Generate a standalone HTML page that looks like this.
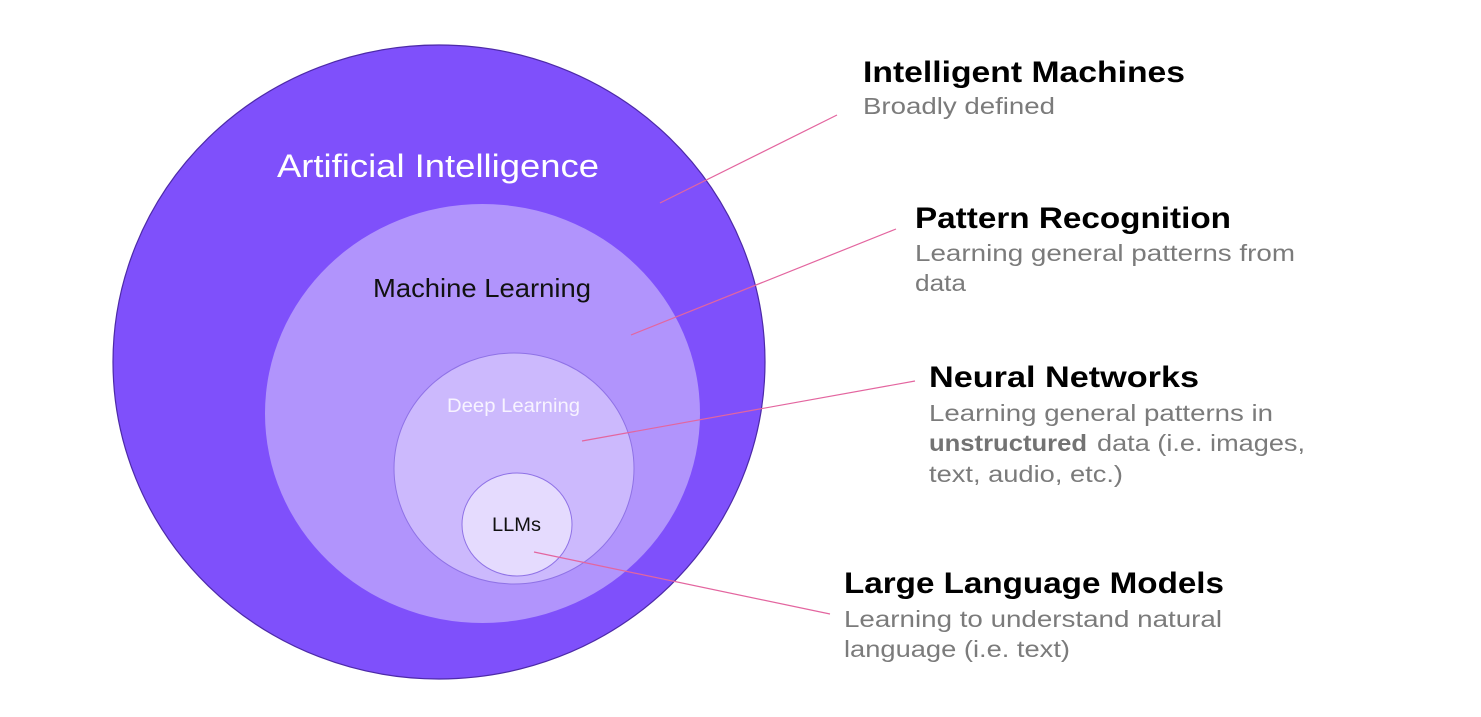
<!DOCTYPE html>
<html>
<head>
<meta charset="utf-8">
<style>
  html, body { margin: 0; padding: 0; background: #ffffff; }
  body { width: 1481px; height: 717px; overflow: hidden; }
  svg { display: block; }
  text { font-family: "Liberation Sans", Arial, sans-serif; }
</style>
</head>
<body>
<svg width="1481" height="717" viewBox="0 0 1481 717" xmlns="http://www.w3.org/2000/svg">
  <rect x="0" y="0" width="1481" height="717" fill="#ffffff"/>

  <!-- Nested circles -->
  <ellipse cx="439" cy="362" rx="326" ry="317" fill="#7f50fb" stroke="#4d2aa8" stroke-width="1.2"/>
  <ellipse cx="482.5" cy="413.5" rx="217.5" ry="209.5" fill="#b194fc"/>
  <ellipse cx="514" cy="468.5" rx="120" ry="115.5" fill="#ccb9fd" stroke="#8f72e6" stroke-width="1"/>
  <ellipse cx="517" cy="524.5" rx="55" ry="51.5" fill="#e5dbfe" stroke="#8f72e6" stroke-width="1"/>

  <!-- Circle labels -->
  <text x="277" y="177" font-size="32" fill="#ffffff" textLength="322" lengthAdjust="spacingAndGlyphs">Artificial Intelligence</text>
  <text x="373" y="297" font-size="26" fill="#111111" textLength="218" lengthAdjust="spacingAndGlyphs">Machine Learning</text>
  <text x="447" y="412" font-size="19" fill="#f7f3ff" textLength="133" lengthAdjust="spacingAndGlyphs">Deep Learning</text>
  <text x="492" y="531" font-size="19.5" fill="#111111" textLength="49" lengthAdjust="spacingAndGlyphs">LLMs</text>

  <!-- Connector lines -->
  <g stroke="#e3659f" stroke-width="1.2" fill="none">
    <line x1="660" y1="203" x2="837" y2="115"/>
    <line x1="631" y1="335" x2="896" y2="229"/>
    <line x1="582" y1="441" x2="915" y2="381"/>
    <line x1="534" y1="552" x2="830" y2="614"/>
  </g>

  <!-- Right side labels -->
  <text x="863" y="82" font-size="30" font-weight="bold" fill="#000000" textLength="322" lengthAdjust="spacingAndGlyphs">Intelligent Machines</text>
  <text x="863" y="114" font-size="23" fill="#7b7b7b" textLength="192" lengthAdjust="spacingAndGlyphs">Broadly defined</text>

  <text x="915" y="228" font-size="30" font-weight="bold" fill="#000000" textLength="316" lengthAdjust="spacingAndGlyphs">Pattern Recognition</text>
  <text x="915" y="261" font-size="23" fill="#7b7b7b" textLength="380" lengthAdjust="spacingAndGlyphs">Learning general patterns from</text>
  <text x="915" y="291" font-size="23" fill="#7b7b7b" textLength="51" lengthAdjust="spacingAndGlyphs">data</text>

  <text x="929" y="387" font-size="30" font-weight="bold" fill="#000000" textLength="270" lengthAdjust="spacingAndGlyphs">Neural Networks</text>
  <text x="929" y="421" font-size="23" fill="#7b7b7b" textLength="344" lengthAdjust="spacingAndGlyphs">Learning general patterns in</text>
  <text x="929" y="451" font-size="23" font-weight="bold" fill="#737373" textLength="158" lengthAdjust="spacingAndGlyphs">unstructured</text>
  <text x="1097" y="451" font-size="23" fill="#7b7b7b" textLength="208" lengthAdjust="spacingAndGlyphs">data (i.e. images,</text>
  <text x="929" y="482" font-size="23" fill="#7b7b7b" textLength="194" lengthAdjust="spacingAndGlyphs">text, audio, etc.)</text>

  <text x="844" y="593" font-size="30" font-weight="bold" fill="#000000" textLength="380" lengthAdjust="spacingAndGlyphs">Large Language Models</text>
  <text x="844" y="627" font-size="23" fill="#7b7b7b" textLength="378" lengthAdjust="spacingAndGlyphs">Learning to understand natural</text>
  <text x="844" y="657" font-size="23" fill="#7b7b7b" textLength="226" lengthAdjust="spacingAndGlyphs">language (i.e. text)</text>
</svg>
</body>
</html>
